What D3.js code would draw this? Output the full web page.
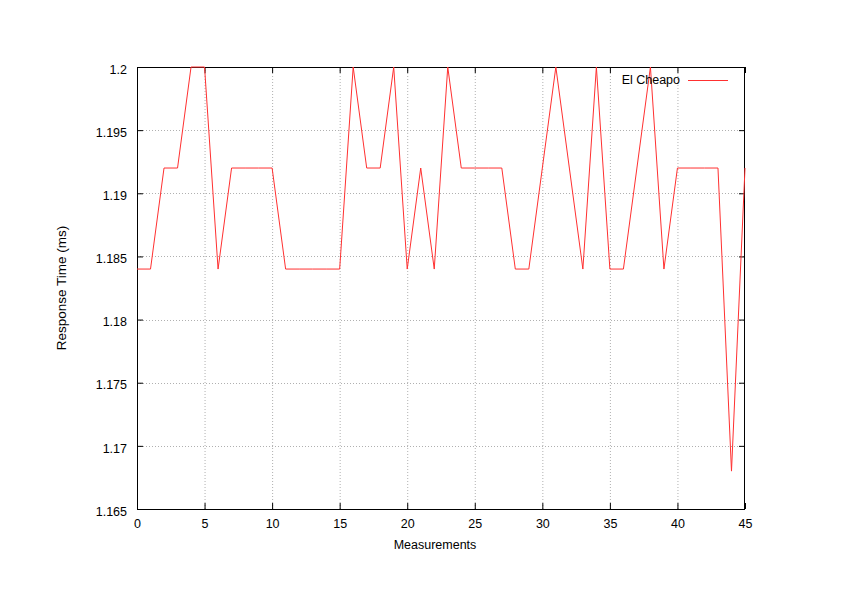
<!DOCTYPE html>
<html><head><meta charset="utf-8">
<script src="https://cdn.jsdelivr.net/npm/d3@7/dist/d3.min.js"></script>
<style>body{margin:0;background:#fff}svg text{font-family:"Liberation Sans",Arial,sans-serif;font-size:12.5px;fill:#000}</style>
</head><body>
<script>
const xValues = d3.range(0, 46);
const responseTimes = [1.184,1.184,1.192,1.192,1.2,1.2,1.184,1.192,1.192,1.192,1.192,1.184,1.184,1.184,1.184,1.184,1.2,1.192,1.192,1.2,1.184,1.192,1.184,1.2,1.192,1.192,1.192,1.192,1.184,1.184,1.192,1.2,1.192,1.184,1.2,1.184,1.184,1.192,1.2,1.184,1.192,1.192,1.192,1.192,1.168,1.192];
const xTicks = [0,5,10,15,20,25,30,35,40,45];
const yTicks = [1.165,1.17,1.175,1.18,1.185,1.19,1.195,1.2];
const seriesName = "El Cheapo";

const W=842,H=595, L=137,R=745,T=67,B=509;
const svg=d3.select("body").append("svg").attr("width",W).attr("height",H);
const x=d3.scaleLinear().domain([0,45]).range([L,R]);
const y=d3.scaleLinear().domain([1.165,1.2]).range([B,T]);

// grid
const g=svg.append("g");
g.selectAll(".gx").data(xTicks.filter(d=>d>0&&d<45)).join("line")
 .attr("x1",d=>x(d)+0.5).attr("x2",d=>x(d)+0.5).attr("y1",T).attr("y2",B)
 .attr("stroke","#b0b0b0").attr("stroke-dasharray","1,2");
g.selectAll(".gy").data(yTicks.filter(d=>d>1.165&&d<1.2)).join("line")
 .attr("y1",d=>Math.round(y(d))+0.5).attr("y2",d=>Math.round(y(d))+0.5).attr("x1",L).attr("x2",R)
 .attr("stroke","#b0b0b0").attr("stroke-dasharray","1,2");

// axes
const xa=svg.append("g").attr("transform",`translate(0,${B})`)
 .call(d3.axisBottom(x).tickValues(xTicks).tickFormat(d3.format("d")).tickSizeInner(-6).tickSizeOuter(0).tickPadding(10));
const xt=svg.append("g").attr("transform",`translate(0,${T})`)
 .call(d3.axisTop(x).tickValues(xTicks).tickFormat("").tickSizeInner(-6).tickSizeOuter(0));
const ya=svg.append("g").attr("transform",`translate(${L},0)`)
 .call(d3.axisLeft(y).tickValues(yTicks).tickFormat(d=>String(+d.toFixed(3))).tickSizeInner(-6).tickSizeOuter(0).tickPadding(10));
const yr=svg.append("g").attr("transform",`translate(${R},0)`)
 .call(d3.axisRight(y).tickValues(yTicks).tickFormat("").tickSizeInner(-6).tickSizeOuter(0));
[xa,xt,ya,yr].forEach(a=>{a.select(".domain").remove();a.selectAll("line").attr("stroke","#000");a.selectAll("text").attr("font-family",null).attr("font-size",null);});
ya.selectAll("text").attr("dy","0.5em");
svg.append("rect").attr("x",L+0.5).attr("y",T+0.5).attr("width",R-L-1).attr("height",B-T).attr("fill","none").attr("stroke","#000");

// line
svg.append("path").datum(xValues.map((d,i)=>[d,responseTimes[i]]))
 .attr("fill","none").attr("stroke","#ff3030").attr("stroke-width",1)
 .attr("d",d3.line().x(d=>x(d[0])).y(d=>y(d[1])));

// labels
svg.append("text").attr("x",(L+R)/2 - 6).attr("y",548.5).attr("text-anchor","middle").text("Measurements");
svg.append("text").attr("transform",`translate(65.5,${(T+B)/2}) rotate(-90)`).attr("text-anchor","middle").style("font-size","13.5px").text("Response Time (ms)");

// legend
svg.append("text").attr("x",680).attr("y",84).attr("text-anchor","end").text(seriesName);
svg.append("line").attr("x1",688).attr("x2",728).attr("y1",80.5).attr("y2",80.5).attr("stroke","#ff3030");
</script>
</body></html>
